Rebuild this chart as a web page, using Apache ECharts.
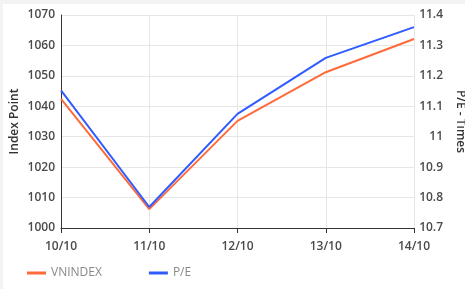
<!DOCTYPE html>
<html>
<head>
<meta charset="utf-8">
<script src="https://cdn.jsdelivr.net/npm/echarts@6/dist/echarts.min.js"></script>
<style>
	html, body { margin: 0; padding: 0; background: #f3f3f3; overflow: hidden; }
	#chart { position: absolute; left: 3px; top: 4px; width: 462px; height: 285px; background: #fff; }
</style>
</head>
<body>
<div id="chart"></div>
<script>
//data
const
	DATES = ['10/10', '11/10', '12/10', '13/10', '14/10'],
	VNINDEX = [1042.4, 1006.2, 1035.2, 1051.2, 1062.1],
	PE = [11.152, 10.769, 11.075, 11.259, 11.36];

//styles
const
	ORANGE = '#ff6a3a',
	BLUE = '#2f5bff',
	FONT = 'Open Sans',
	LABEL = { fontFamily: FONT, fontSize: 12, color: '#4a4a4a', fontWeight: 600 },
	GRID_LINE = { show: true, lineStyle: { color: '#e6e6e6', width: 1 } };

var chart = echarts.init(document.getElementById('chart'));

chart.setOption({
	animation: false,
	textStyle: { fontFamily: FONT },
	grid: { left: 58, right: 51, top: 11, bottom: 61, outerBoundsMode: 'none', containLabel: false },
	legend: {
		left: 19, bottom: 5,
		icon: 'rect', itemWidth: 19, itemHeight: 3, itemGap: 47,
		textStyle: { fontFamily: FONT, fontSize: 12, color: '#888' },
		data: ['VNINDEX', 'P/E']
	},
	xAxis: {
		type: 'category', boundaryGap: false, data: DATES,
		axisLine: { lineStyle: { color: '#333' } },
		axisTick: { show: true, length: 5, lineStyle: { color: '#333' } },
		axisLabel: Object.assign({ margin: 13 }, LABEL),
		splitLine: GRID_LINE
	},
	yAxis: [
		{
			type: 'value', min: 1000, max: 1070, interval: 10,
			name: 'Index Point', nameLocation: 'middle', nameGap: 40, nameMoveOverlap: false,
			nameTextStyle: { fontFamily: FONT, fontSize: 12, color: '#333', fontWeight: 600 },
			axisLine: { show: true, lineStyle: { color: '#333' } },
			axisTick: { show: false },
			axisLabel: Object.assign({ margin: 6, formatter: v => String(v) }, LABEL),
			splitLine: GRID_LINE
		},
		{
			type: 'value', min: 10.7, max: 11.4, interval: 0.1,
			name: 'P/E - Times', nameLocation: 'middle', nameGap: 40, nameRotate: -90,
			nameTextStyle: { fontFamily: FONT, fontSize: 12, color: '#333', fontWeight: 600 },
			axisLine: { show: false },
			axisTick: { show: false },
			axisLabel: Object.assign({ margin: 29, align: 'right', formatter: v => String(+v.toFixed(1)) }, LABEL),
			splitLine: { show: false }
		}
	],
	series: [
		{
			name: 'VNINDEX', type: 'line', data: VNINDEX, yAxisIndex: 0,
			showSymbol: false, symbol: 'none',
			itemStyle: { color: ORANGE }, lineStyle: { color: ORANGE, width: 2 }
		},
		{
			name: 'P/E', type: 'line', data: PE, yAxisIndex: 1,
			showSymbol: false, symbol: 'none',
			itemStyle: { color: BLUE }, lineStyle: { color: BLUE, width: 2 }
		}
	]
});
</script>
</body>
</html>
